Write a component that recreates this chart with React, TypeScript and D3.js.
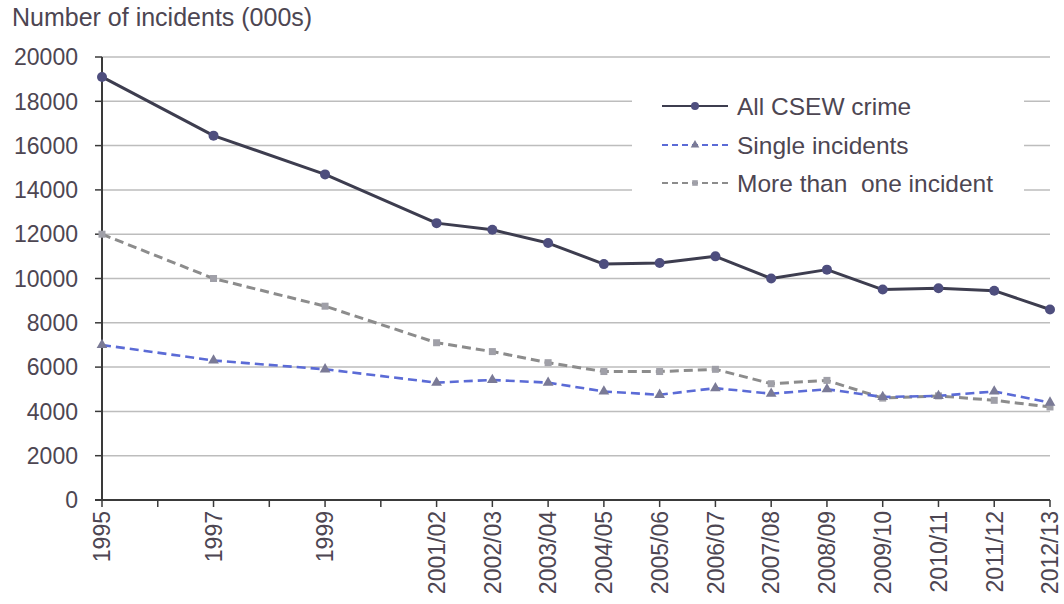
import React from "react";
import * as d3 from "d3";

const categories = ["1995","1996","1997","1998","1999","2000","2001/02","2002/03","2003/04","2004/05","2005/06","2006/07","2007/08","2008/09","2009/10","2010/11","2011/12","2012/13"];
const tickLabels = ["1995","","1997","","1999","","2001/02","2002/03","2003/04","2004/05","2005/06","2006/07","2007/08","2008/09","2009/10","2010/11","2011/12","2012/13"];
const periods = ["1995","1997","1999","2001/02","2002/03","2003/04","2004/05","2005/06","2006/07","2007/08","2008/09","2009/10","2010/11","2011/12","2012/13"];
const allCrime = [19100,16450,14700,12500,12200,11600,10650,10700,11000,10000,10400,9500,9560,9450,8600];
const singleIncidents = [7000,6300,5900,5300,5420,5300,4900,4750,5050,4800,5000,4650,4700,4900,4400];
const multipleIncidents = [12000,10000,8750,7100,6700,6200,5800,5800,5900,5250,5400,4600,4700,4500,4200];
const yTicks = [0,2000,4000,6000,8000,10000,12000,14000,16000,18000,20000];
const seriesNames = ["All CSEW crime","Single incidents","More than\u00a0 one incident"];

const FONT = "Arial, 'Liberation Sans', sans-serif";
const TEXT = "#4d4652";

export default function App() {
  const x = d3.scalePoint<string>().domain(categories).range([102, 1050]);
  const y = d3.scaleLinear().domain([0, 20000]).range([500, 57]);
  const line = d3.line<number>().x((_, i) => x(periods[i])!).y(d => y(d));

  const series = [
    { name: seriesNames[0], data: allCrime, color: "#3d3d4f", width: 3, dash: "none", marker: "circle", mColor: "#4e4e7e" },
    { name: seriesNames[1], data: singleIncidents, color: "#5b6bd6", width: 2.6, dash: "9,5", marker: "triangle", mColor: "#7a7a96" },
    { name: seriesNames[2], data: multipleIncidents, color: "#8c8c8c", width: 3, dash: "9,5", marker: "square", mColor: "#a0a0a8" },
  ];
  const drawOrder = [2, 1, 0];

  const marker = (type: string, cx: number, cy: number, color: string, key: any, s = 1) => {
    if (type === "circle") return <circle key={key} cx={cx} cy={cy} r={5 * s} fill={color} />;
    if (type === "triangle") {
      const p = d3.symbol(d3.symbolTriangle, 50 * s * s)()!;
      return <path key={key} d={p} transform={`translate(${cx},${cy})`} fill={color} />;
    }
    return <rect key={key} x={cx - 3.5 * s} y={cy - 3.5 * s} width={7 * s} height={7 * s} fill={color} />;
  };

  const legendY = [106, 145, 183];

  return (
    <svg width={1064} height={604} style={{ position: "absolute", left: 0, top: 0, background: "#fff" }} fontFamily={FONT}>
      <text x={12} y={26} fontSize={25} fill={TEXT}>Number of incidents (000s)</text>
      {yTicks.map(t => (
        <g key={t}>
          {t > 0 && <line x1={102} x2={1050} y1={y(t)} y2={y(t)} stroke="#bdbdbd" strokeWidth={1.5} />}
          <line x1={95} x2={102} y1={y(t)} y2={y(t)} stroke="#3a3a3a" strokeWidth={1.5} />
          <text x={78} y={y(t)} dy="0.36em" textAnchor="end" fontSize={23} fill={TEXT}>{t}</text>
        </g>
      ))}
      <rect x={632} y={84} width={392} height={118} fill="#fff" />
      <line x1={102} x2={102} y1={y(20000)} y2={y(0)} stroke="#3a3a3a" strokeWidth={2} />
      <line x1={95} x2={1050} y1={y(0)} y2={y(0)} stroke="#3a3a3a" strokeWidth={2} />
      {categories.map((c, i) => (
        <g key={c}>
          <line x1={x(c)} x2={x(c)} y1={y(0)} y2={y(0) + 7} stroke="#3a3a3a" strokeWidth={1.5} />
          {tickLabels[i] && (
            <text transform={`translate(${x(c)},${y(0) + 11}) rotate(-90)`} dy="0.36em" textAnchor="end" fontSize={23} fill={TEXT}>{tickLabels[i]}</text>
          )}
        </g>
      ))}
      {drawOrder.map(si => {
        const s = series[si];
        return (
          <g key={s.name}>
            <path d={line(s.data)!} fill="none" stroke={s.color} strokeWidth={s.width} strokeDasharray={s.dash} strokeLinejoin="round" />
            {s.data.map((v, i) => marker(s.marker, x(periods[i])!, y(v), s.mColor, i))}
          </g>
        );
      })}
      {series.map((s, i) => (
        <g key={s.name}>
          <line x1={662} x2={728} y1={legendY[i]} y2={legendY[i]} stroke={s.color} strokeWidth={2.2} strokeDasharray={s.dash === "none" ? "none" : "6,4"} />
          {marker(s.marker, 695, legendY[i], s.mColor, "m", 0.8)}
          <text x={737} y={legendY[i]} dy="0.36em" fontSize={24.5} fill={TEXT}>{s.name}</text>
        </g>
      ))}
    </svg>
  );
}
